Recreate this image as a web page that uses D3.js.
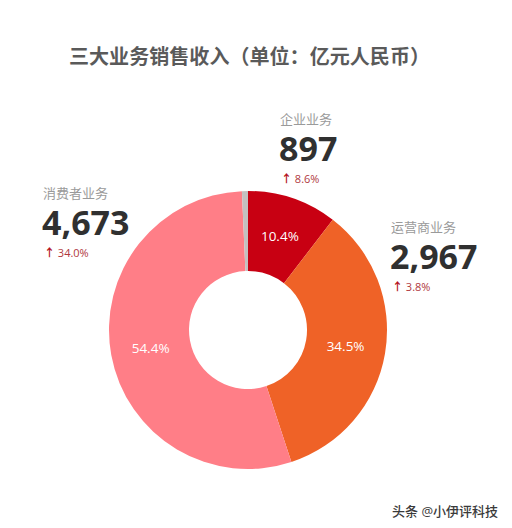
<!DOCTYPE html>
<html><head><meta charset="utf-8">
<script src="https://cdn.jsdelivr.net/npm/d3@7"></script>
<style>
html,body{margin:0;padding:0;background:#fff;}
svg{display:block;}
text{font-family:"Open Sans","Noto Sans CJK SC",sans-serif;}
</style></head>
<body>
<svg id="c" width="512" height="528"></svg>
<script>
const title = "三大业务销售收入（单位：亿元人民币）";
const categories = ["企业业务", "运营商业务", "消费者业务", "其他"];
const values = [897, 2967, 4673, 60];
const percentLabels = ["10.4%", "34.5%", "54.4%", ""];
const growth = ["8.6%", "3.8%", "34.0%", ""];
const colors = ["#C80012", "#EF6227", "#FF7E87", "#C4C0C0"];
const watermark = "头条 @小伊评科技";

const svg = d3.select("#c");
const cx = 248, cy = 330, rOuter = 139, rInner = 59;

svg.append("text").attr("x", 69).attr("y", 64)
  .attr("font-size", 20).attr("font-weight", 700).attr("fill", "#5a5a5a")
  .attr("textLength", 361).attr("lengthAdjust", "spacingAndGlyphs")
  .text(title);

const pie = d3.pie().sort(null).value(d => d);
const arcs = pie(values);
const arc = d3.arc().innerRadius(rInner).outerRadius(rOuter);
const g = svg.append("g").attr("transform", `translate(${cx},${cy})`);
g.selectAll("path").data(arcs).join("path")
  .attr("d", arc).attr("fill", (d, i) => colors[i]);
g.selectAll("text.pct").data(arcs).join("text").attr("class", "pct")
  .attr("transform", d => `translate(${arc.centroid(d)})`)
  .attr("text-anchor", "middle").attr("dy", "0.35em")
  .attr("font-size", 13.5).attr("fill", "#fff")
  .text((d, i) => percentLabels[i]);

// callout blocks: [category index, x, label baseline]
const blocks = [[0, 280, 124], [1, 391, 232], [2, 43, 198]];
const fmt = d3.format(",");
blocks.forEach(([i, x, y]) => {
  svg.append("text").attr("x", x).attr("y", y)
    .attr("font-size", 13).attr("fill", "#9a9a9a").text(categories[i]);
  svg.append("text").attr("x", x - 1).attr("y", y + 37)
    .attr("font-size", 34).attr("font-weight", 700).attr("fill", "#303030")
    .text(fmt(values[i]));
  const t = svg.append("text").attr("x", x + 1).attr("y", y + 59)
    .attr("font-size", 11);
  t.append("tspan").attr("fill", "#B5161E").attr("font-weight", 700).text("↑ ");
  t.append("tspan").attr("fill", "#B0383E").text(growth[i]);
});

svg.append("text").attr("x", 392).attr("y", 516)
  .attr("font-size", 13).attr("font-weight", 500).attr("fill", "#3a3a3a")
  .attr("stroke", "#fff").attr("stroke-width", 2).attr("paint-order", "stroke")
  .text(watermark);
</script>
</body></html>
